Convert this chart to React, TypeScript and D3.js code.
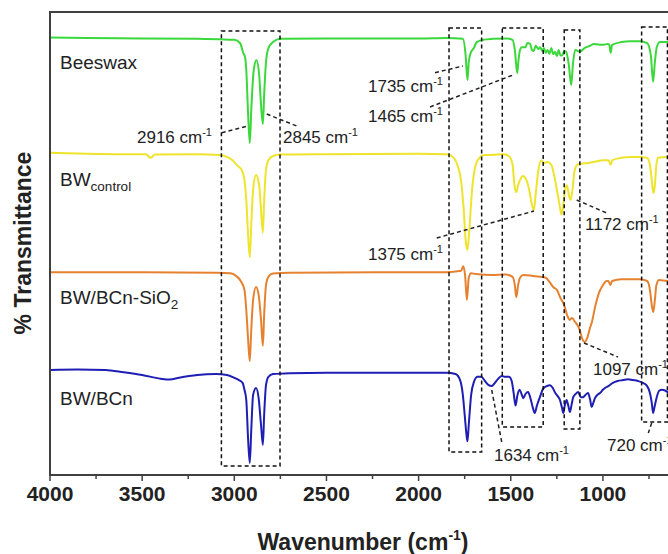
import React, { useEffect, useRef } from 'react';
import * as d3 from 'd3';

const W = 668;
const H = 554;

// wavenumber (cm-1) ticks
const xTicks = [4000, 3500, 3000, 2500, 2000, 1500, 1000];
const xMinorTicks = [3750, 3250, 2750, 2250, 1750, 1250, 750];

// [wavenumber, stacked %T]
const beeswax: [number, number][] = [
  [4000, 94.5], [3800, 94.4], [3500, 94.3], [3200, 94.2], [3080, 94.1], [3000, 94.0],
  [2969, 93.3], [2950, 91.0], [2942, 90.3], [2935, 87.5], [2925, 77.8], [2916, 71.7],
  [2908, 78.8], [2895, 87.3], [2880, 89.6], [2865, 86.4], [2855, 79.9], [2845, 75.8],
  [2838, 82.1], [2828, 89.2], [2815, 92.2], [2790, 93.5], [2750, 94.2], [2500, 94.3],
  [2000, 94.3], [1850, 94.4], [1760, 94.2], [1745, 90.7], [1735, 85.3], [1728, 89.2],
  [1715, 91.4], [1700, 92.2], [1685, 93.5], [1650, 94.0], [1600, 94.2], [1520, 94.3],
  [1490, 94.0], [1478, 91.8], [1465, 86.8], [1458, 89.6], [1450, 91.8], [1440, 92.4],
  [1420, 92.4], [1410, 93.3], [1395, 93.1], [1385, 91.8], [1375, 91.6], [1365, 92.7],
  [1350, 92.0], [1340, 92.4], [1330, 91.6], [1320, 92.2], [1310, 91.2], [1300, 91.8],
  [1290, 91.0], [1280, 92.2], [1270, 90.9], [1260, 91.4], [1250, 90.5], [1240, 91.8],
  [1230, 90.6], [1220, 90.7], [1210, 91.6], [1200, 91.4], [1185, 88.6], [1172, 84.2],
  [1163, 88.6], [1150, 91.8], [1125, 91.4], [1100, 92.2], [1070, 92.7], [1050, 93.1],
  [1000, 92.9], [975, 93.1], [965, 92.9], [958, 91.2], [950, 92.9], [900, 93.5],
  [850, 93.7], [800, 93.7], [760, 93.3], [740, 90.7], [728, 84.9], [718, 89.2],
  [708, 92.4], [690, 93.5], [650, 93.5], [600, 93.5],
];

const bwControl: [number, number][] = [
  [4000, 69.6], [3800, 69.4], [3600, 69.3], [3480, 69.3], [3455, 68.5], [3430, 69.2],
  [3200, 69.3], [3080, 69.1], [3010, 68.0], [2980, 66.7], [2960, 65.9], [2945, 63.7],
  [2935, 59.4], [2925, 51.8], [2916, 47.1], [2908, 54.0], [2898, 61.6], [2882, 64.8],
  [2865, 62.6], [2855, 57.2], [2845, 52.3], [2838, 59.4], [2828, 65.9], [2815, 68.0],
  [2790, 68.9], [2750, 69.2], [2500, 69.3], [2000, 69.4], [1850, 69.3], [1820, 68.9],
  [1790, 67.0], [1770, 63.7], [1755, 57.2], [1745, 50.8], [1735, 48.6], [1725, 52.9],
  [1710, 61.6], [1690, 67.0], [1670, 68.5], [1640, 69.1], [1600, 69.1], [1540, 69.3],
  [1510, 68.9], [1490, 67.0], [1480, 62.6], [1470, 61.1], [1460, 62.6], [1450, 63.7],
  [1435, 64.6], [1415, 63.7], [1400, 61.6], [1385, 58.3], [1375, 57.2], [1365, 60.5],
  [1350, 65.9], [1335, 68.0], [1320, 67.4], [1300, 67.6], [1280, 67.0], [1265, 64.8],
  [1250, 61.6], [1235, 58.3], [1225, 56.2], [1215, 58.3], [1205, 61.6], [1195, 62.6],
  [1185, 60.5], [1175, 59.4], [1165, 61.6], [1155, 65.4], [1140, 67.0], [1120, 67.2],
  [1080, 67.4], [1050, 67.6], [1000, 68.0], [970, 68.0], [958, 67.0], [948, 68.0],
  [900, 68.5], [850, 68.7], [800, 68.7], [760, 68.5], [745, 67.0], [735, 63.7],
  [727, 60.9], [718, 62.6], [710, 67.0], [700, 68.5], [650, 68.7], [600, 68.7],
];

const bwBCnSiO2: [number, number][] = [
  [4000, 43.8], [3500, 43.8], [3100, 43.7], [3020, 43.6], [2990, 43.0], [2965, 41.9],
  [2945, 40.0], [2935, 35.6], [2925, 29.2], [2916, 24.6], [2908, 31.3], [2898, 37.8],
  [2882, 40.6], [2868, 38.9], [2855, 33.5], [2845, 27.9], [2838, 34.6], [2828, 41.0],
  [2815, 42.8], [2790, 43.5], [2700, 43.7], [2000, 43.8], [1850, 43.8], [1770, 44.1],
  [1758, 45.1], [1748, 43.2], [1738, 37.8], [1728, 42.6], [1715, 43.6], [1690, 43.4],
  [1600, 43.2], [1530, 43.3], [1490, 42.8], [1478, 41.0], [1470, 38.4], [1460, 41.0],
  [1450, 42.6], [1430, 43.2], [1380, 43.0], [1340, 42.8], [1310, 42.6], [1290, 41.7],
  [1270, 40.6], [1250, 40.0], [1230, 38.2], [1210, 36.7], [1195, 34.6], [1180, 33.5],
  [1168, 33.9], [1150, 33.0], [1130, 31.8], [1110, 29.2], [1100, 28.7], [1085, 29.6],
  [1070, 31.8], [1060, 33.0], [1040, 36.7], [1020, 39.5], [1000, 41.0], [980, 41.9],
  [970, 41.9], [960, 41.0], [950, 41.9], [900, 42.3], [850, 42.3], [800, 42.3],
  [760, 41.9], [745, 40.0], [735, 36.7], [727, 35.2], [718, 37.8], [710, 41.0],
  [695, 42.1], [650, 41.9], [600, 41.9],
];

const bwBCn: [number, number][] = [
  [4000, 22.7], [3850, 22.8], [3700, 22.7], [3600, 22.2], [3500, 21.6], [3400, 20.8],
  [3350, 20.6], [3300, 21.0], [3200, 21.6], [3100, 21.8], [3040, 21.6], [3000, 21.0],
  [2975, 20.5], [2955, 19.9], [2945, 18.4], [2935, 16.2], [2925, 7.6], [2916, 2.6],
  [2908, 9.7], [2898, 17.3], [2882, 18.8], [2868, 16.6], [2855, 10.8], [2845, 6.5],
  [2838, 13.0], [2828, 19.4], [2815, 21.2], [2790, 21.8], [2700, 22.0], [2500, 22.1],
  [2000, 22.1], [1850, 22.1], [1800, 21.8], [1775, 20.5], [1760, 17.3], [1750, 13.0],
  [1740, 8.6], [1735, 7.3], [1728, 10.8], [1715, 17.3], [1700, 20.1], [1680, 21.2],
  [1660, 21.2], [1640, 20.3], [1620, 19.4], [1604, 19.2], [1590, 19.7], [1570, 20.7],
  [1550, 21.4], [1530, 21.2], [1510, 21.2], [1495, 20.3], [1485, 17.9], [1474, 15.0],
  [1465, 17.0], [1452, 18.4], [1440, 17.3], [1432, 16.6], [1420, 17.5], [1406, 17.9],
  [1392, 16.4], [1380, 14.5], [1370, 13.4], [1358, 15.0], [1342, 16.8], [1325, 18.6],
  [1305, 19.2], [1288, 19.4], [1272, 18.8], [1261, 17.9], [1245, 17.0], [1233, 16.2],
  [1222, 14.5], [1215, 13.4], [1207, 15.0], [1197, 16.2], [1188, 15.0], [1179, 13.6],
  [1170, 15.2], [1161, 16.8], [1148, 17.5], [1134, 17.9], [1120, 16.8], [1107, 16.8],
  [1095, 17.3], [1081, 17.7], [1070, 16.4], [1061, 14.7], [1052, 15.6], [1043, 16.6],
  [1030, 17.3], [1016, 17.7], [1000, 18.4], [989, 18.8], [970, 19.2], [946, 19.9],
  [920, 20.3], [891, 20.5], [865, 20.7], [837, 20.5], [810, 20.3], [783, 19.9],
  [760, 19.2], [745, 17.7], [735, 15.6], [728, 13.4], [720, 14.7], [708, 16.8],
  [695, 18.2], [680, 18.4], [660, 18.2], [647, 17.9], [600, 17.9],
];

const spectra = [beeswax, bwControl, bwBCnSiO2, bwBCn];
const colors = ['#3ad83a', '#efe42c', '#e6822f', '#1e1eb4'];

// [main text, subscript]
const seriesLabels: [string, string][] = [
  ['Beeswax', ''],
  ['BW', 'control'],
  ['BW/BCn-SiO', '2'],
  ['BW/BCn', ''],
];
const labelY = [69, 186, 304, 405];

// dashed boxes: wavenumber range + top/bottom in px
const boxes = [
  { from: 3070, to: 2752, top: 31, bottom: 466 },
  { from: 1835, to: 1658, top: 28, bottom: 452 },
  { from: 1546, to: 1324, top: 28, bottom: 427 },
  { from: 1210, to: 1125, top: 30, bottom: 429 },
  { from: 790, to: 650, top: 27, bottom: 422 },
];

const peakLabels = [
  { text: '2916', x: 137, y: 143, line: [[221.7, 132.7], [248, 126]] },
  { text: '2845', x: 283, y: 143, line: [[266.7, 114], [296.7, 126]] },
  { text: '1735', x: 368, y: 92, line: [[435, 72.7], [463, 66]] },
  { text: '1465', x: 368, y: 122, line: [[430, 107], [513, 75]] },
  { text: '1375', x: 368, y: 260, line: [[436.7, 238], [534, 211]] },
  { text: '1172', x: 585, y: 230, line: [[576.7, 200], [606.7, 213]] },
  { text: '1097', x: 593, y: 375, line: [[584, 343], [618, 357]] },
  { text: '1634', x: 494, y: 461, line: [[491.7, 390], [501.7, 442]] },
  { text: '720', x: 607, y: 451, line: [[651.7, 423], [648.3, 433]] },
];

const FONT = '"Liberation Sans", Arial, Helvetica, sans-serif';

const App = () => {
  const svgRef = useRef<SVGSVGElement>(null);

  useEffect(() => {
    const svg = d3.select(svgRef.current);
    svg.selectAll('*').remove();

    const x = d3.scaleLinear().domain([4000, 400]).range([50, 713.5]);
    const y = d3.scaleLinear().domain([0, 100]).range([475, 12]);

    svg.append('defs').append('clipPath').attr('id', 'plot')
      .append('rect').attr('x', 50).attr('y', 12).attr('width', 700).attr('height', 463);

    // spectra
    const line = d3.line<[number, number]>()
      .x((d) => x(d[0]))
      .y((d) => y(d[1]))
      .curve(d3.curveMonotoneX);

    svg.append('g').attr('clip-path', 'url(#plot)')
      .selectAll('path')
      .data(spectra)
      .join('path')
      .attr('fill', 'none')
      .attr('stroke', (d, i) => colors[i])
      .attr('stroke-width', 2)
      .attr('stroke-linejoin', 'round')
      .attr('d', (d) => line(d));

    // dashed boxes
    svg.append('g')
      .selectAll('rect')
      .data(boxes)
      .join('rect')
      .attr('x', (d) => x(d.from))
      .attr('y', (d) => d.top)
      .attr('width', (d) => x(d.to) - x(d.from))
      .attr('height', (d) => d.bottom - d.top)
      .attr('fill', 'none')
      .attr('stroke', '#111')
      .attr('stroke-width', 1.5)
      .attr('stroke-dasharray', '4,3');

    // frame
    svg.append('line').attr('x1', 50).attr('x2', W).attr('y1', 12).attr('y2', 12)
      .attr('stroke', '#404040').attr('stroke-width', 2);
    svg.append('line').attr('x1', 50).attr('x2', 50).attr('y1', 11).attr('y2', 476)
      .attr('stroke', '#404040').attr('stroke-width', 2);

    // x axis
    const ax = svg.append('g').attr('transform', 'translate(0,475)');
    ax.append('line').attr('x1', 49).attr('x2', W).attr('stroke', '#404040').attr('stroke-width', 2);
    ax.selectAll('.major').data(xTicks).join('line')
      .attr('x1', (d) => x(d)).attr('x2', (d) => x(d)).attr('y1', 0).attr('y2', 6)
      .attr('stroke', '#404040').attr('stroke-width', 1.5);
    ax.selectAll('.minor').data(xMinorTicks).join('line')
      .attr('x1', (d) => x(d)).attr('x2', (d) => x(d)).attr('y1', 0).attr('y2', 4)
      .attr('stroke', '#404040').attr('stroke-width', 1.5);
    ax.selectAll('text').data(xTicks).join('text')
      .attr('x', (d) => x(d)).attr('y', 26)
      .attr('text-anchor', 'middle')
      .attr('font-family', FONT).attr('font-weight', 'bold').attr('font-size', 21)
      .attr('fill', '#222')
      .text((d) => d);

    // axis titles
    const xt = svg.append('text').attr('x', 363).attr('y', 550)
      .attr('text-anchor', 'middle').attr('font-family', FONT)
      .attr('font-weight', 'bold').attr('font-size', 23).attr('fill', '#222');
    xt.append('tspan').text('Wavenumber (cm');
    xt.append('tspan').attr('font-size', 14).attr('dy', -10).text('-1');
    xt.append('tspan').attr('dy', 10).text(')');

    svg.append('text').attr('transform', 'translate(31,243) rotate(-90)')
      .attr('text-anchor', 'middle').attr('font-family', FONT)
      .attr('font-weight', 'bold').attr('font-size', 23).attr('fill', '#222')
      .text('% Transmittance');

    // series labels
    seriesLabels.forEach(([main, sub], i) => {
      const t = svg.append('text').attr('x', 60).attr('y', labelY[i])
        .attr('font-family', FONT).attr('font-size', 19).attr('fill', '#222');
      t.append('tspan').text(main);
      if (sub) t.append('tspan').attr('font-size', 13.5).attr('dy', 5).text(sub);
    });

    // peak annotations
    const ann = svg.append('g');
    peakLabels.forEach((p) => {
      ann.append('line')
        .attr('x1', p.line[0][0]).attr('y1', p.line[0][1])
        .attr('x2', p.line[1][0]).attr('y2', p.line[1][1])
        .attr('stroke', '#222').attr('stroke-width', 1.5).attr('stroke-dasharray', '4,3');
      const t = ann.append('text').attr('x', p.x).attr('y', p.y)
        .attr('font-family', FONT).attr('font-size', 17).attr('fill', '#222');
      t.append('tspan').text(`${p.text} cm`);
      t.append('tspan').attr('font-size', 11).attr('dy', -7).text('-1');
    });
  }, []);

  return (
    <svg
      ref={svgRef}
      width={W}
      height={H}
      style={{ position: 'fixed', left: 0, top: 0, background: '#fff' }}
    />
  );
};

export default App;
